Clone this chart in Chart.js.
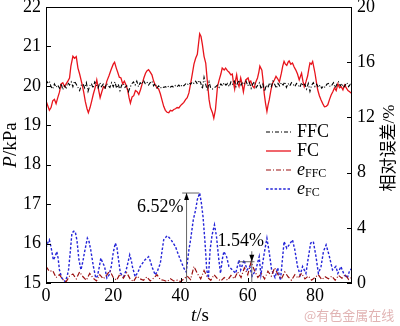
<!DOCTYPE html>
<html>
<head>
<meta charset="utf-8">
<script src="https://cdn.jsdelivr.net/npm/chart.js@4.4.0/dist/chart.umd.min.js"></script>
<style>
  html, body { margin: 0; padding: 0; background: #fff; }
</style>
</head>
<body>
<canvas id="myChart" width="400" height="326"></canvas>
<script>
const SERIF = "'Liberation Serif', 'Times New Roman', 'Noto Sans CJK SC', serif";

// axis ticks
const timeTicks = [0, 20, 40, 60, 80];
const pressureTicks = [15, 16, 17, 18, 19, 20, 21, 22];
const errorTicks = [0, 4, 8, 12, 16, 20];

// FC pressure (s, kPa)
const fcTime = [
  0.0, 0.5, 1.0, 1.5, 2.0, 2.5, 3.0, 3.5, 4.0, 4.5, 5.0, 5.5, 6.0, 6.5, 7.0, 7.4, 8.0, 8.5, 9.0, 9.5,
  10.0, 10.7, 11.2, 11.7, 12.2, 12.6, 13.1, 13.6, 14.1, 14.6, 15.1, 15.6, 16.1, 16.6, 17.1, 17.6, 18.1, 18.7, 19.4, 20.0,
  20.4, 20.9, 21.3, 21.8, 22.3, 22.8, 23.3, 23.8, 24.3, 24.7, 25.1, 25.6, 26.1, 26.6, 27.1, 27.6, 28.1, 28.6, 29.1, 29.6,
  30.0, 30.5, 31.0, 31.5, 32.0, 32.5, 33.0, 33.5, 34.0, 34.5, 35.0, 35.5, 36.0, 36.5, 37.0, 37.5, 38.0, 38.5, 39.0, 39.5,
  40.0, 40.5, 41.0, 41.5, 42.0, 42.5, 43.0, 43.5, 44.0, 44.5, 45.0, 45.4, 45.7, 46.1, 46.5, 47.0, 47.5, 48.0, 48.5, 48.9,
  49.5, 49.9, 50.4, 51.0, 51.5, 52.0, 52.4, 53.0, 53.4, 54.0, 54.4, 55.0, 55.4, 55.8, 56.1, 56.4, 56.7, 57.1, 57.4, 57.9,
  58.3, 58.7, 59.0, 59.4, 60.1, 60.5, 60.9, 61.4, 61.9, 62.4, 62.9, 63.3, 63.6, 64.2, 64.6, 64.9, 65.3, 65.7, 66.0, 66.4,
  66.9, 67.4, 67.9, 68.4, 68.9, 69.4, 70.0, 70.4, 70.8, 71.2, 71.6, 72.0, 72.3, 72.8, 73.3, 73.8, 74.3, 74.8, 75.3, 75.7,
  76.0, 76.4, 76.8, 77.3, 77.8, 78.2, 78.5, 78.9, 79.3, 79.7, 80.0, 80.4, 80.8, 81.3, 81.8, 82.3, 82.8, 83.3, 83.8, 84.3,
  84.8, 85.3, 85.8, 86.3, 86.8, 87.3, 87.8, 88.3, 88.8, 89.3, 89.8, 90.3, 91.0
];
const fcPressure = [
  19.62, 19.50, 19.38, 19.45, 19.62, 19.66, 19.55, 19.70, 19.84, 20.05, 20.08, 19.98, 20.05, 20.12, 20.20, 20.50, 20.75, 20.70, 20.74, 20.45,
  20.30, 20.05, 19.85, 19.60, 19.42, 19.32, 19.45, 19.62, 19.80, 19.95, 20.15, 19.92, 19.70, 19.85, 19.98, 19.95, 20.12, 20.25, 20.42, 20.55,
  20.60, 20.45, 20.35, 20.22, 20.20, 20.05, 20.12, 20.02, 19.88, 19.70, 19.56, 19.72, 19.75, 19.88, 19.85, 19.78, 19.90, 20.05, 20.20, 20.32,
  20.38, 20.41, 20.35, 20.28, 20.12, 20.02, 19.95, 19.92, 19.80, 19.64, 19.48, 19.38, 19.33, 19.32, 19.38, 19.36, 19.40, 19.42, 19.45, 19.44,
  19.50, 19.54, 19.58, 19.65, 19.70, 19.82, 20.05, 20.30, 20.55, 20.70, 20.80, 21.10, 21.32, 21.25, 21.05, 20.75, 20.58, 20.10, 19.65, 19.45,
  19.32, 19.18, 19.40, 19.98, 20.15, 20.30, 20.45, 20.40, 20.45, 20.38, 20.35, 20.28, 20.30, 20.05, 19.92, 20.15, 20.28, 20.05, 19.98, 20.20,
  20.05, 19.85, 20.00, 20.15, 20.20, 20.08, 20.12, 20.00, 19.95, 20.10, 20.20, 20.35, 20.50, 20.40, 20.10, 19.80, 19.55, 19.35, 19.50, 19.65,
  19.90, 20.07, 20.15, 20.24, 20.18, 20.10, 20.32, 20.50, 20.62, 20.55, 20.52, 20.60, 20.63, 20.55, 20.58, 20.48, 20.40, 20.30, 20.15, 20.25,
  20.32, 20.12, 19.98, 20.10, 20.25, 20.45, 20.58, 20.55, 20.62, 20.45, 20.32, 20.10, 19.90, 19.75, 19.64, 19.55, 19.47, 19.48, 19.52, 19.65,
  19.77, 19.85, 19.95, 19.88, 20.05, 19.95, 19.98, 19.90, 20.02, 19.95, 19.88, 19.85, 19.80
];

// FFC pressure, one sample every 0.5 s (kPa)
const ffcPressure = [
  20.15, 20.08, 20.12, 19.98, 19.92, 20.05, 19.96, 20.02, 19.94, 20.06,
  19.90, 20.00, 19.95, 20.08, 20.02, 20.10, 19.98, 20.12, 20.04, 19.96,
  19.88, 20.02, 20.05, 19.95, 20.08, 19.86, 20.00, 20.06, 19.94, 20.10,
  20.02, 19.95, 20.08, 19.98, 20.04, 19.92, 20.06, 20.00, 19.96, 20.08,
  19.98, 20.10, 19.94, 20.04, 19.88, 20.02, 20.06, 19.96, 20.00, 19.85,
  19.96, 20.05, 20.10, 20.02, 20.12, 19.98, 20.08, 20.04, 20.14, 20.06,
  20.10, 20.02, 20.08, 20.12, 20.00, 20.06, 19.95, 20.00, 19.94, 19.98,
  19.96, 19.98, 19.95, 20.00, 19.97, 19.99, 19.96, 20.01, 19.98, 20.02,
  19.97, 20.03, 20.00, 20.05, 20.02, 20.08, 20.04, 20.10, 20.06, 20.12,
  20.05, 20.14, 20.08, 19.92, 20.22, 20.04, 19.88, 20.10, 19.94, 19.92,
  19.95, 19.98, 20.02, 19.96, 20.05, 20.00, 20.08, 20.02, 20.06, 19.98,
  20.10, 20.04, 20.12, 19.98, 20.08, 20.14, 20.02, 20.10, 20.06, 20.12,
  20.00, 20.08, 19.94, 20.05, 20.10, 19.96, 20.02, 20.08, 19.92, 20.04,
  19.86, 20.02, 19.95, 20.08, 19.98, 20.12, 20.04, 19.94, 20.06, 20.00,
  20.08, 20.02, 20.10, 19.96, 20.06, 20.00, 20.08, 20.04, 19.98, 20.06,
  20.02, 19.96, 20.08, 20.00, 20.04, 19.92, 20.06, 19.86, 20.02, 20.08,
  19.98, 20.04, 19.96, 20.02, 19.94, 20.00, 19.96, 20.04, 20.06, 19.98,
  20.02, 20.08, 19.95, 20.04, 20.10, 20.00, 20.06, 19.96, 20.02, 20.08,
  19.98, 20.04, 20.00
];

// relative error of FC (s, %)
const efcTime = [
  0.0, 0.5, 1.0, 1.5, 2.2, 2.7, 3.2, 3.6, 4.0, 4.7, 5.3, 5.7, 6.3, 6.7, 7.2, 7.7, 8.2, 8.7, 9.2, 9.8,
  10.4, 11.0, 11.4, 12.3, 12.8, 13.3, 14.1, 14.8, 15.3, 15.8, 16.3, 16.8, 17.4, 18.1, 18.8, 19.4, 20.0, 20.6, 21.1, 21.3,
  22.1, 23.1, 23.8, 24.1, 24.9, 25.4, 25.7, 26.5, 27.4, 28.0, 29.4, 30.5, 31.0, 31.5, 32.5, 33.2, 34.0, 34.5, 35.0, 36.0,
  36.6, 37.2, 37.8, 38.5, 39.3, 40.0, 41.0, 41.7, 42.5, 43.0, 43.8, 44.5, 45.0, 45.7, 46.2, 46.7, 47.3, 47.8, 48.3, 48.8,
  49.4, 50.1, 50.7, 51.4, 51.9, 52.4, 52.9, 53.7, 54.4, 55.4, 56.4, 57.4, 57.9, 58.9, 59.8, 60.6, 61.3, 62.4, 63.4, 63.9,
  64.9, 65.7, 66.4, 67.1, 68.1, 68.9, 69.7, 70.3, 70.8, 71.6, 72.3, 73.3, 74.0, 74.8, 75.6, 76.3, 77.3, 77.9, 78.7, 79.5,
  80.3, 81.0, 81.8, 82.5, 83.3, 84.2, 85.2, 86.2, 86.8, 87.7, 88.5, 89.6, 90.3, 91.0
];
const efcError = [
  2.55, 2.90, 3.13, 2.60, 1.67, 1.90, 2.28, 1.80, 0.95, 0.36, 0.20, 0.10, 0.50, 0.95, 2.20, 3.60, 3.75, 3.72, 3.10, 1.67,
  0.95, 1.60, 2.17, 3.25, 3.00, 2.40, 1.19, 0.36, 0.50, 1.10, 1.80, 1.50, 1.20, 0.36, 0.60, 1.19, 2.20, 2.89, 2.60, 2.17,
  0.72, 0.46, 0.90, 1.19, 2.04, 1.60, 1.19, 0.46, 0.80, 1.19, 1.67, 1.91, 1.60, 1.19, 0.58, 0.90, 1.43, 2.30, 3.13, 3.42,
  3.30, 3.13, 2.90, 2.64, 2.10, 1.67, 1.07, 0.80, 2.40, 3.13, 4.58, 5.30, 6.04, 6.52, 5.80, 4.80, 2.90, 0.95, 0.36, 2.40,
  3.49, 4.22, 3.37, 1.67, 0.70, 1.67, 2.28, 1.91, 1.19, 0.95, 0.70, 1.67, 0.95, 1.67, 0.95, 1.20, 0.50, 0.95, 1.91, 0.60,
  2.16, 3.25, 2.20, 0.95, 0.40, 1.10, 0.20, 1.67, 3.00, 2.52, 2.76, 3.13, 2.40, 1.19, 0.58, 1.20, 0.70, 1.67, 2.89, 3.00,
  1.91, 0.70, 1.20, 2.28, 2.76, 2.00, 0.95, 1.20, 0.70, 1.19, 0.70, 0.36, 0.90, 1.07
];

// relative error of FFC, one sample per second (%)
const effcError = [
  1.20, 0.85, 0.90, 0.40, 0.60, 0.25, 0.10, 0.50, 0.65, 0.30,
  0.80, 0.45, 0.20, 0.70, 0.35, 0.15, 0.60, 0.30, 0.55, 0.90,
  0.40, 0.20, 0.65, 0.35, 0.75, 0.30, 0.10, 0.50, 0.30, 0.20,
  0.45, 0.15, 0.35, 0.60, 0.25, 0.20, 0.10, 0.30, 0.15, 0.20,
  0.10, 0.30, 0.50, 0.25, 1.20, 0.70, 0.30, 0.90, 0.40, 0.20,
  0.60, 0.30, 0.15, 0.40, 0.20, 0.55, 0.30, 0.80, 0.40, 1.10,
  0.60, 1.54, 0.90, 0.40, 0.70, 0.30, 0.85, 0.50, 1.10, 0.60,
  0.30, 0.80, 0.45, 0.20, 0.60, 0.35, 0.70, 0.30, 0.50, 0.20,
  0.40, 0.60, 0.25, 0.45, 0.30, 0.50, 0.20, 0.55, 0.35, 0.60,
  0.25, 0.40
];

const toPoints = (xs, ys) => ys.map((y, i) => ({ x: xs[i], y }));
const ffcTime = ffcPressure.map((_, i) => i * 0.5);
const effcTime = effcError.map((_, i) => i);

const efcPeak = Math.max(...efcError);
const effcPeak = Math.max(...effcError);

const series = [
  { label: 'FFC', sub: '', italic: false, color: '#000000', dash: [4, 2, 1, 2], width: 1.1, axis: 'y',
    data: toPoints(ffcTime, ffcPressure) },
  { label: 'FC', sub: '', italic: false, color: '#e8141c', dash: [], width: 1.3, axis: 'y',
    data: toPoints(fcTime, fcPressure) },
  { label: 'e', sub: 'FFC', italic: true, color: '#9b1010', dash: [5, 2, 1, 2], width: 1.2, axis: 'y1',
    data: toPoints(effcTime, effcError) },
  { label: 'e', sub: 'FC', italic: true, color: '#2424d8', dash: [2.5, 1.8], width: 1.4, axis: 'y1',
    data: toPoints(efcTime, efcError) },
];

// dimension marks for the two error peaks
const notes = [
  { value: efcPeak, at: 41.8, from: 40.5, to: 45.6, textAt: 40.9, textLevel: 5.5, align: 'right', head: 'up' },
  { value: effcPeak, at: 61.2, from: 57.3, to: 62.0, textAt: 57.9, textLevel: 3.0, align: 'center', head: 'down' },
];

const tickFont = { family: SERIF, size: 18 };

function drawRich(ctx, parts, x, y, align) {
  let total = 0;
  parts.forEach(p => { ctx.font = p.font; total += ctx.measureText(p.text).width; });
  let cx = align === 'center' ? x - total / 2 : (align === 'right' ? x - total : x);
  parts.forEach(p => {
    ctx.font = p.font;
    ctx.fillText(p.text, cx, y + (p.dy || 0));
    cx += ctx.measureText(p.text).width;
  });
}

const decorations = {
  id: 'decorations',
  afterDatasetsDraw(chart) {
    const { ctx, chartArea: a, scales } = chart;
    const { x, y, y1 } = scales;
    ctx.save();

    // frame and inward ticks
    ctx.strokeStyle = '#000';
    ctx.lineWidth = 1;
    ctx.setLineDash([]);
    ctx.strokeRect(a.left + 0.5, a.top + 0.5, a.right - a.left - 1, a.bottom - a.top - 1);
    ctx.beginPath();
    y.ticks.forEach(t => {
      const py = Math.round(y.getPixelForValue(t.value)) + 0.5;
      ctx.moveTo(a.left, py); ctx.lineTo(a.left + 5, py);
    });
    y1.ticks.forEach(t => {
      const py = Math.round(y1.getPixelForValue(t.value)) + 0.5;
      ctx.moveTo(a.right - 5, py); ctx.lineTo(a.right, py);
    });
    x.ticks.forEach(t => {
      const px = Math.round(x.getPixelForValue(t.value)) + 0.5;
      ctx.moveTo(px, a.bottom); ctx.lineTo(px, a.bottom - 5);
    });
    ctx.stroke();

    // peak annotations
    ctx.strokeStyle = '#555';
    ctx.fillStyle = '#000';
    notes.forEach(n => {
      const px = x.getPixelForValue(n.at);
      const pPeak = y1.getPixelForValue(n.value);
      const pZero = y1.getPixelForValue(0);
      ctx.lineWidth = 0.9;
      ctx.beginPath();
      ctx.moveTo(x.getPixelForValue(n.from), pPeak);
      ctx.lineTo(x.getPixelForValue(n.to), pPeak);
      if (n.head === 'up') {
        ctx.moveTo(px, pZero); ctx.lineTo(px, pPeak);
      } else {
        ctx.moveTo(px, y1.getPixelForValue(n.textLevel - 0.7)); ctx.lineTo(px, pZero);
      }
      ctx.stroke();
      ctx.beginPath();
      if (n.head === 'up') {
        ctx.moveTo(px, pPeak); ctx.lineTo(px - 2.5, pPeak + 7); ctx.lineTo(px + 2.5, pPeak + 7);
      } else {
        ctx.moveTo(px, pPeak); ctx.lineTo(px - 2.5, pPeak - 7); ctx.lineTo(px + 2.5, pPeak - 7);
      }
      ctx.closePath();
      ctx.fillStyle = '#000';
      ctx.fill();
      ctx.textBaseline = 'middle';
      ctx.font = `18px ${SERIF}`;
      ctx.textAlign = n.align;
      ctx.fillText(n.value.toFixed(2) + '%', x.getPixelForValue(n.textAt), y1.getPixelForValue(n.textLevel));
    });
    ctx.restore();
  },
  afterDraw(chart) {
    const { ctx } = chart;
    ctx.save();
    ctx.fillStyle = '#000';
    ctx.textAlign = 'left';
    ctx.textBaseline = 'middle';

    // legend
    series.forEach((s, i) => {
      const ly = 132 + i * 19;
      ctx.strokeStyle = s.color;
      ctx.lineWidth = s.width;
      ctx.setLineDash(s.dash);
      ctx.beginPath();
      ctx.moveTo(266, ly); ctx.lineTo(291, ly);
      ctx.stroke();
      const parts = [{ text: s.label, font: `${s.italic ? 'italic ' : ''}18px ${SERIF}` }];
      if (s.sub) parts.push({ text: s.sub, font: `12px ${SERIF}`, dy: 4 });
      drawRich(ctx, parts, 297, ly, 'left');
    });
    ctx.setLineDash([]);

    // axis titles
    ctx.save();
    ctx.translate(11, 145);
    ctx.rotate(-Math.PI / 2);
    drawRich(ctx, [
      { text: 'P', font: `italic 19px ${SERIF}` },
      { text: '/kPa', font: `19px ${SERIF}` },
    ], 0, 0, 'center');
    ctx.restore();

    ctx.save();
    ctx.translate(390, 148);
    ctx.rotate(-Math.PI / 2);
    drawRich(ctx, [{ text: '相对误差/%', font: `17px ${SERIF}` }], 0, 0, 'center');
    ctx.restore();

    ctx.textBaseline = 'alphabetic';
    drawRich(ctx, [
      { text: 't', font: `italic 19px ${SERIF}` },
      { text: '/s', font: `19px ${SERIF}` },
    ], 200, 321, 'center');

    // site mark
    ctx.fillStyle = 'rgba(205, 130, 130, 0.6)';
    ctx.font = "13px 'Noto Sans CJK SC', sans-serif";
    ctx.textBaseline = 'middle';
    ctx.fillText('@有色金属在线', 304, 315);
    ctx.restore();
  },
};

const config = {
  type: 'line',
  data: {
    datasets: series.map(s => ({
      label: s.sub ? s.label + s.sub : s.label,
      data: s.data,
      yAxisID: s.axis,
      borderColor: s.color,
      borderWidth: s.width,
      borderDash: s.dash,
      pointRadius: 0,
      tension: 0,
      fill: false,
    })),
  },
  options: {
    responsive: false,
    animation: false,
    layout: { padding: { top: 7, left: 0, right: 0, bottom: 0 } },
    plugins: { legend: { display: false }, tooltip: { enabled: false } },
    scales: {
      x: {
        type: 'linear',
        min: 0,
        max: 91,
        afterBuildTicks: s => { s.ticks = timeTicks.map(v => ({ value: v })); },
        afterFit: s => { s.height = 43; s.paddingLeft = 0; s.paddingRight = 0; },
        grid: { display: false, drawTicks: false },
        border: { display: false },
        ticks: { font: tickFont, color: '#000', padding: 2, maxRotation: 0 },
      },
      y: {
        position: 'left',
        min: 15,
        max: 22,
        afterBuildTicks: s => { s.ticks = pressureTicks.map(v => ({ value: v })); },
        afterFit: s => { s.width = 46; s.paddingTop = 0; s.paddingBottom = 0; },
        grid: { display: false, drawTicks: false },
        border: { display: false },
        ticks: { font: tickFont, color: '#000', padding: 5 },
      },
      y1: {
        position: 'right',
        min: 0,
        max: 20,
        afterBuildTicks: s => { s.ticks = errorTicks.map(v => ({ value: v })); },
        afterFit: s => { s.width = 48; s.paddingTop = 0; s.paddingBottom = 0; },
        grid: { display: false, drawTicks: false },
        border: { display: false },
        ticks: { font: tickFont, color: '#000', padding: 5 },
      },
    },
  },
  plugins: [decorations],
};

const myChart = new Chart(document.getElementById('myChart'), config);
</script>
</body>
</html>
